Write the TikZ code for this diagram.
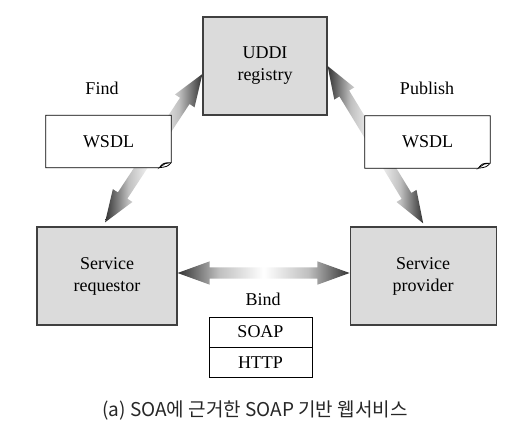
\documentclass[tikz,border=0pt]{standalone}
\usepackage{fontspec}
\setmainfont{Liberation Serif}
\newfontfamily\krfont{Noto Sans CJK KR}
\usetikzlibrary{positioning,calc,shapes.arrows}
\pgfdeclarehorizontalshading{flowshade}{100bp}{color(0bp)=(black!80); color(25bp)=(black!80); color(37bp)=(black!25); color(50bp)=(white); color(63bp)=(black!25); color(75bp)=(black!80); color(100bp)=(black!80)}
\begin{document}
\begin{tikzpicture}[x=1pt,y=-1pt,font=\fontsize{18}{22}\selectfont]
\tikzstyle{box} = [draw=black!75, line width=1.2pt, fill=black!14, minimum height=98pt, align=center, inner sep=0pt]
\tikzstyle{note} = [fill=white, minimum width=125pt, minimum height=52pt, inner sep=0pt]
\tikzstyle{layer} = [draw, line width=0.8pt, minimum width=103pt, minimum height=30pt, inner sep=0pt]
\tikzstyle{flow} = [to path={let \p1=(\tikztostart), \p2=(\tikztotarget), \n1={atan2(\y2-\y1,\x2-\x1)}, \n2={veclen(\x2-\x1,\y2-\y1)} in node[double arrow, shading=flowshade, rotate=\n1, minimum height=\n2, inner xsep=0pt, inner ysep=5.5pt, double arrow head extend=6pt, double arrow tip angle=40] at ($(\p1)!0.5!(\p2)$) {}}]
\useasboundingbox (0,0) rectangle (511,428);
%
\node[box, minimum width=124pt] (reg) at (265,66) {UDDI\\registry};
\node[box, minimum width=140pt] (req) at (107,276) {Service\\requestor};
\node[box, minimum width=146pt, right=172pt of req] (prov) {Service\\provider};
%
\path ([xshift=-2pt,yshift=4pt]req.north) to[flow] ([yshift=-8pt]reg.west);
\path (reg.east) to[flow] ([yshift=3pt]prov.north);
\path ([yshift=3pt]req.east) to[flow] ([yshift=3pt]prov.west);
%
\node[note] (wsdlL) at (108.5,141.5) {WSDL};
\node[note] (wsdlR) at (427.5,142) {WSDL};
\foreach \n in {wsdlL,wsdlR} {
  \draw[line width=0.8pt] (\n.north west) -- (\n.north east) -- ([yshift=5pt]\n.south east)
    .. controls ([xshift=-4pt,yshift=1pt]\n.south east) .. ([xshift=-12pt]\n.south east) -- (\n.south west) -- cycle;
  \draw[line width=0.6pt, fill=black!10] ([xshift=-12pt]\n.south east) .. controls ([xshift=-8pt,yshift=5pt]\n.south east)
    .. ([yshift=5pt]\n.south east) -- ([xshift=-6pt,yshift=4pt]\n.south east) -- cycle;
}
\node (find) at (102,88) {Find};
\node (publish) at (427,88) {Publish};
\node (bind) at (263,299) {Bind};
%
\node[layer] (soap) at (260.5,332) {SOAP};
\node[layer, below=0pt of soap] (http) {HTTP};
\node[font=\krfont\fontsize{19}{22}\selectfont, text=black!85] (cap) at (255,411) {(a) SOA에 근거한 SOAP 기반 웹서비스};
\end{tikzpicture}
\end{document}
